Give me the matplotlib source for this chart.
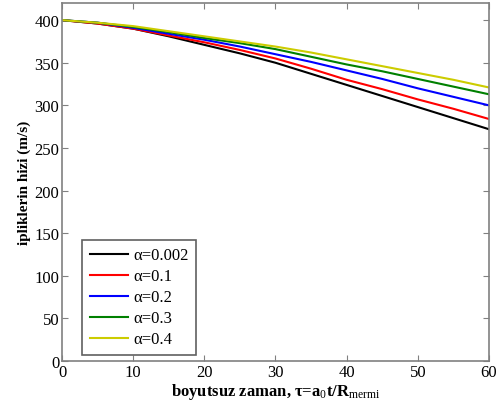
import numpy as np
import matplotlib
matplotlib.use("Agg")
import matplotlib.pyplot as plt

# boyutsuz zaman (tau) and speeds
tau = [0, 5, 10, 15, 20, 25, 30, 35, 40, 45, 50, 55, 60]
v_0002 = [400, 396, 390, 381, 371, 361, 350, 337, 324, 311, 298, 285, 272]
v_01 = [400, 396, 390, 382, 374, 365, 355, 343, 330, 319, 307, 296, 284]
v_02 = [400, 397, 391, 384, 377, 369, 360, 351, 341, 331, 320, 310, 300]
v_03 = [400, 397, 392, 386, 379, 373, 366, 357, 348, 340, 331, 322, 313]
v_04 = [400, 397, 393, 387, 381, 375, 369, 362, 354, 346, 338, 330, 321]

labels = ["α=0.002", "α=0.1", "α=0.2", "α=0.3", "α=0.4"]
colors = ["black", "red", "blue", "green", (0.8, 0.8, 0.0)]

plt.rcParams['font.family'] = ['Liberation Serif', 'DejaVu Serif']
plt.rcParams['mathtext.fontset'] = 'custom'
plt.rcParams['mathtext.rm'] = 'Liberation Serif'
plt.rcParams['mathtext.it'] = 'Liberation Serif'

fig = plt.figure(figsize=(5.01, 4.10), dpi=100)
ax = fig.add_axes([0.1238, 0.117, 0.8522, 0.873])

for v, lab, c in zip([v_0002, v_01, v_02, v_03, v_04], labels, colors):
    ax.plot(tau, v, color=c, lw=1.5, label=lab)

ax.set_xlim(0, 60)
ax.set_ylim(0, 420)
ax.set_xticks(np.arange(0, 61, 10))
ax.set_yticks(np.arange(0, 401, 50))
ax.tick_params(direction='in', top=True, right=True, labelsize=12, length=4,
               color='#808080', pad=2)
for s in ax.spines.values():
    s.set_color('#808080')
    s.set_linewidth(1.2)

ax.set_xlabel(r'boyutsuz zaman, τ=a$_0$t/R$_{\mathrm{mermi}}$', fontsize=12,
              fontweight='bold', labelpad=1)
ax.set_ylabel('ipliklerin hizi (m/s)', fontsize=11, fontweight='bold', labelpad=2)

leg = ax.legend(loc='lower left', bbox_to_anchor=(0.047, 0.017), fontsize=12,
                handlelength=2.3, handletextpad=0.3, labelspacing=0.3,
                fancybox=False, framealpha=1, borderpad=0.45, borderaxespad=0)
leg.get_frame().set_edgecolor('#606060')
leg.get_frame().set_linewidth(1.2)

fig.savefig('out.png', dpi=100)
